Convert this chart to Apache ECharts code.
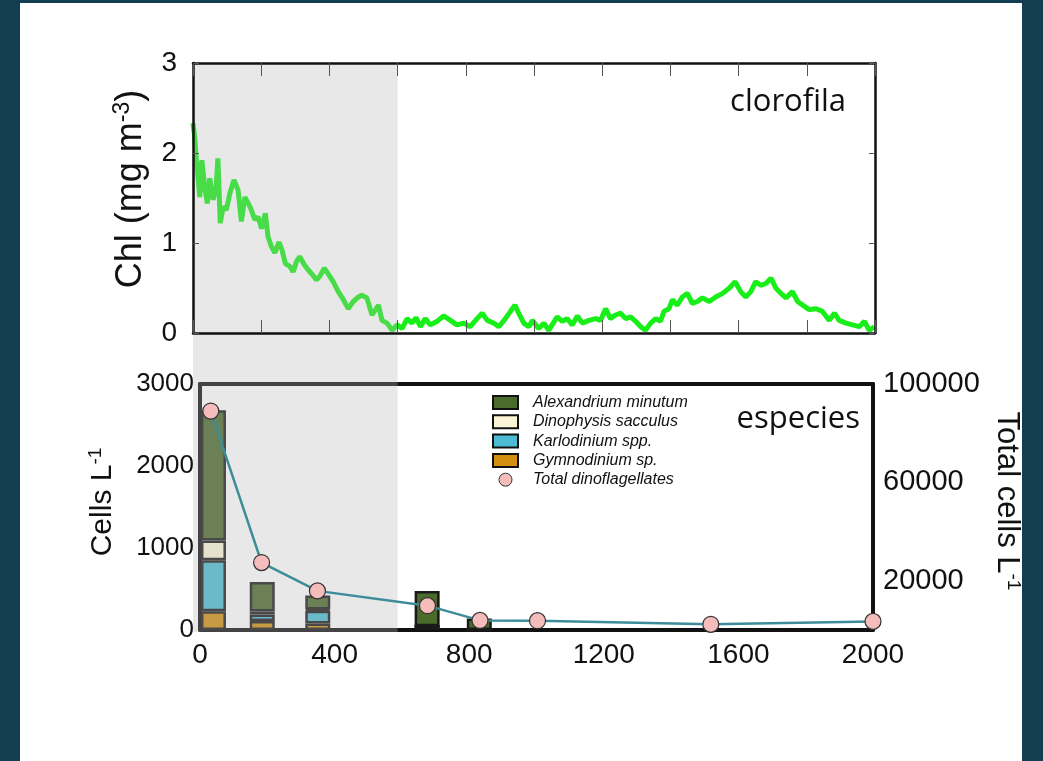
<!DOCTYPE html>
<html>
<head>
<meta charset="utf-8">
<script src="https://cdn.jsdelivr.net/npm/echarts@6/dist/echarts.min.js"></script>
<style>
html, body { margin: 0; padding: 0; width: 1043px; height: 761px; background: #133e52; overflow: hidden; }
.panel { position: absolute; left: 20px; top: 3px; width: 1002px; height: 758px; background: #fff; }
#chart { position: absolute; left: 0; top: 0; width: 1043px; height: 761px; }
</style>
</head>
<body>
<div class="panel"></div>
<div id="chart"></div>
<script>
// clorofila (mg m-3) a lo largo del transecto
const chlDist = [0, 5, 10, 20, 26, 34, 42, 49, 59, 68, 73, 80, 88, 98, 108, 120, 132, 142, 152, 162, 171, 181, 191, 201, 212, 220, 230, 240, 252, 261, 271, 284, 294, 303, 313, 326, 338, 352, 362, 372, 385, 396, 411, 426, 441, 455, 470, 485, 495, 510, 525, 544, 554, 569, 584, 598, 613, 628, 642, 654, 667, 681, 696, 716, 735, 755, 774, 794, 813, 833, 848, 863, 882, 897, 916, 931, 944, 955, 970, 985, 995, 1014, 1029, 1043, 1068, 1083, 1097, 1112, 1127, 1142, 1161, 1181, 1195, 1210, 1224, 1239, 1254, 1269, 1283, 1298, 1313, 1327, 1342, 1357, 1371, 1381, 1396, 1406, 1420, 1435, 1450, 1464, 1479, 1494, 1514, 1533, 1553, 1573, 1590, 1606, 1621, 1636, 1650, 1665, 1680, 1695, 1709, 1724, 1739, 1758, 1773, 1788, 1807, 1827, 1846, 1866, 1881, 1895, 1915, 1934, 1954, 1969, 1983, 1998]
const chlVal = [2.33, 2.18, 1.92, 1.51, 1.92, 1.63, 1.44, 1.72, 1.48, 1.63, 1.94, 1.22, 1.40, 1.37, 1.55, 1.70, 1.59, 1.24, 1.51, 1.44, 1.37, 1.26, 1.29, 1.16, 1.33, 1.07, 0.96, 0.89, 1.01, 0.92, 0.77, 0.74, 0.68, 0.79, 0.85, 0.76, 0.70, 0.64, 0.59, 0.63, 0.72, 0.66, 0.57, 0.46, 0.37, 0.27, 0.35, 0.40, 0.42, 0.39, 0.20, 0.31, 0.14, 0.11, 0.03, 0.09, 0.05, 0.16, 0.11, 0.17, 0.07, 0.16, 0.09, 0.13, 0.19, 0.14, 0.09, 0.11, 0.07, 0.16, 0.22, 0.14, 0.11, 0.07, 0.16, 0.24, 0.31, 0.22, 0.11, 0.07, 0.14, 0.05, 0.11, 0.03, 0.18, 0.13, 0.16, 0.09, 0.19, 0.11, 0.14, 0.16, 0.14, 0.27, 0.16, 0.20, 0.22, 0.16, 0.18, 0.13, 0.07, 0.03, 0.11, 0.16, 0.13, 0.24, 0.27, 0.37, 0.31, 0.40, 0.44, 0.33, 0.35, 0.39, 0.35, 0.40, 0.44, 0.50, 0.57, 0.46, 0.40, 0.46, 0.57, 0.53, 0.55, 0.61, 0.50, 0.44, 0.39, 0.46, 0.35, 0.31, 0.26, 0.27, 0.24, 0.14, 0.22, 0.14, 0.11, 0.09, 0.07, 0.13, 0.03, 0.07]
const shadeEnd = 600

// especies (cells L-1)
const barDist = [40, 185, 350, 675, 830]
const alexandrium = [1590, 360, 170, 430, 140]
const dinophysis = [240, 35, 15, 0, 0]
const karlodinium = [620, 80, 155, 0, 0]
const gymnodinium = [230, 110, 80, 45, 0]

// total dinoflagellates (cells L-1, eje derecho)
const totalDist = [32, 183, 349, 676, 832, 1003, 1518, 2000]
const totalCells = [89000, 27400, 15900, 9900, 3900, 3800, 2300, 3500]

const rightTicks = [20000, 60000, 100000]

const font = "'Liberation Sans', Arial, sans-serif"
const plain = (v) => String(v)

function frameAxis(extra) {
  return Object.assign({
    type: 'value',
    axisTick: { show: false },
    axisLabel: { show: false },
    splitLine: { show: false },
  }, extra)
}

function barSeries(name, vals, color) {
  return {
    name: name,
    type: 'bar',
    xAxisIndex: 2,
    yAxisIndex: 2,
    stack: 'sp',
    barWidth: 25,
    encode: { x: 1, y: 0 },
    itemStyle: { color: color, borderColor: '#1a1a1a', borderWidth: 2.5 },
    z: 2,
    data: vals.map((v, i) => [v, barDist[i]]),
  }
}

const topLine = { onZero: false, lineStyle: { color: '#111', width: 2.5 } }
const botLine = { onZero: false, lineStyle: { color: '#111', width: 4 } }
const xTick = { inside: true, length: 13, lineStyle: { color: '#555', width: 1 } }
const yTick = { inside: true, length: 6, lineStyle: { color: '#555', width: 1 } }

const chart = echarts.init(document.getElementById('chart'))
chart.setOption({
  animation: false,
  backgroundColor: 'transparent',
  title: [
    { text: 'clorofila', right: 197, top: 87, padding: 0,
      textStyle: { fontFamily: "'Open Sans', sans-serif", fontSize: 31, fontWeight: 'normal', color: '#111' } },
    { text: 'especies', right: 183, top: 404, padding: 0,
      textStyle: { fontFamily: "'Open Sans', sans-serif", fontSize: 31, fontWeight: 'normal', color: '#111' } },
  ],
  legend: {
    orient: 'vertical',
    left: 487,
    top: 389,
    itemWidth: 25,
    itemHeight: 13,
    itemGap: 2.3,
    selectedMode: false,
    textStyle: { fontFamily: font, fontSize: 16, fontStyle: 'italic', color: '#111', lineHeight: 17, padding: [0, 0, 0, 10] },
    data: [
      { name: 'Alexandrium minutum', icon: 'rect', itemStyle: { borderColor: '#111', borderWidth: 2 } },
      { name: 'Dinophysis sacculus', icon: 'rect', itemStyle: { borderColor: '#111', borderWidth: 2 } },
      { name: 'Karlodinium spp.', icon: 'rect', itemStyle: { borderColor: '#111', borderWidth: 2 } },
      { name: 'Gymnodinium sp.', icon: 'rect', itemStyle: { borderColor: '#111', borderWidth: 2 } },
      { name: 'Total dinoflagellates', icon: 'circle', itemStyle: { borderColor: '#333', borderWidth: 1 } },
    ],
  },
  grid: [
    { left: 193, top: 63, width: 682, height: 270 },
    { left: 200, top: 384, width: 673, height: 246 },
  ],
  xAxis: [
    frameAxis({ gridIndex: 0, min: 0, max: 2000, interval: 200, z: 10, axisLine: topLine, axisTick: xTick }),
    frameAxis({ gridIndex: 0, position: 'top', min: 0, max: 2000, interval: 200, z: 10, axisLine: topLine, axisTick: xTick }),
    frameAxis({
      gridIndex: 1, min: 0, max: 2000, interval: 400, axisLine: botLine,
      axisLabel: { fontFamily: font, fontSize: 28, color: '#111', margin: 11, formatter: plain },
    }),
    frameAxis({ gridIndex: 1, position: 'top', min: 0, max: 2000, axisLine: botLine }),
  ],
  yAxis: [
    frameAxis({
      gridIndex: 0, min: 0, max: 3, interval: 1, z: 10, axisLine: topLine, axisTick: yTick,
      axisLabel: { fontFamily: font, fontSize: 28, color: '#111', margin: 16 },
      name: '{a|Chl (mg m}{s|-3}{a|)}',
      nameLocation: 'middle',
      nameGap: 42,
      nameTextStyle: {
        padding: [0, 0, 0, 18],
        rich: {
          a: { fontFamily: font, fontSize: 36, color: '#111', lineHeight: 40 },
          s: { fontFamily: font, fontSize: 23, color: '#111', lineHeight: 40, verticalAlign: 'top' },
        },
      },
    }),
    frameAxis({ gridIndex: 0, position: 'right', min: 0, max: 3, interval: 1, z: 10, axisLine: topLine, axisTick: yTick }),
    frameAxis({
      gridIndex: 1, min: 0, max: 3000, interval: 1000, axisLine: botLine,
      axisLabel: { fontFamily: font, fontSize: 26, color: '#111', margin: 6, formatter: plain },
      name: '{a|Cells L}{s|-1}',
      nameLocation: 'middle',
      nameGap: 80,
      nameTextStyle: {
        padding: [0, 0, 0, 10],
        rich: {
          a: { fontFamily: font, fontSize: 30, color: '#111', lineHeight: 34 },
          s: { fontFamily: font, fontSize: 19, color: '#111', lineHeight: 34, verticalAlign: 'top' },
        },
      },
    }),
    frameAxis({
      gridIndex: 1, position: 'right', min: 0, max: 100000, interval: 20000, axisLine: botLine,
      axisLabel: {
        fontFamily: font, fontSize: 29, color: '#111', margin: 10,
        formatter: (v) => (rightTicks.indexOf(v) >= 0 ? String(v) : ''),
      },
      name: '{a|Total cells L}{s|-1}',
      nameLocation: 'middle',
      nameRotate: -90,
      nameGap: 116,
      nameTextStyle: {
        padding: [0, 12, 0, 0],
        rich: {
          a: { fontFamily: font, fontSize: 31, color: '#111', lineHeight: 34 },
          s: { fontFamily: font, fontSize: 19, color: '#111', lineHeight: 34, verticalAlign: 'top' },
        },
      },
    }),
  ],
  series: [
    {
      name: 'Chl',
      type: 'line',
      xAxisIndex: 0,
      yAxisIndex: 0,
      showSymbol: false,
      lineStyle: { color: '#18ee18', width: 5 },
      z: 2,
      data: chlDist.map((d, i) => [d, chlVal[i]]),
    },
    barSeries('Gymnodinium sp.', gymnodinium, '#d38f12'),
    barSeries('Karlodinium spp.', karlodinium, '#4bbcd3'),
    barSeries('Dinophysis sacculus', dinophysis, '#fbf5d6'),
    barSeries('Alexandrium minutum', alexandrium, '#4a6b2b'),
    {
      name: 'Total dinoflagellates',
      type: 'line',
      xAxisIndex: 2,
      yAxisIndex: 3,
      symbol: 'circle',
      symbolSize: 16,
      clip: false,
      itemStyle: { color: '#f6bcbc', borderColor: '#333', borderWidth: 1.2 },
      lineStyle: { color: '#3c8c99', width: 2.5 },
      z: 10,
      data: totalDist.map((d, i) => [d, totalCells[i]]),
    },
  ],
})

// zona sombreada, calculada con las escalas del propio grafico
const pTop = chart.convertToPixel({ xAxisIndex: 0, yAxisIndex: 0 }, [0, 3])
const pEnd = chart.convertToPixel({ xAxisIndex: 0, yAxisIndex: 0 }, [shadeEnd, 0])
const pBot = chart.convertToPixel({ xAxisIndex: 2, yAxisIndex: 2 }, [0, 0])
chart.setOption({
  graphic: [{
    type: 'rect',
    z: 5,
    silent: true,
    shape: { x: pTop[0], y: pTop[1] + 1, width: pEnd[0] - pTop[0], height: pBot[1] - pTop[1] + 1 },
    style: { fill: 'rgba(181,181,181,0.31)' },
  }],
})
</script>
</body>
</html>
